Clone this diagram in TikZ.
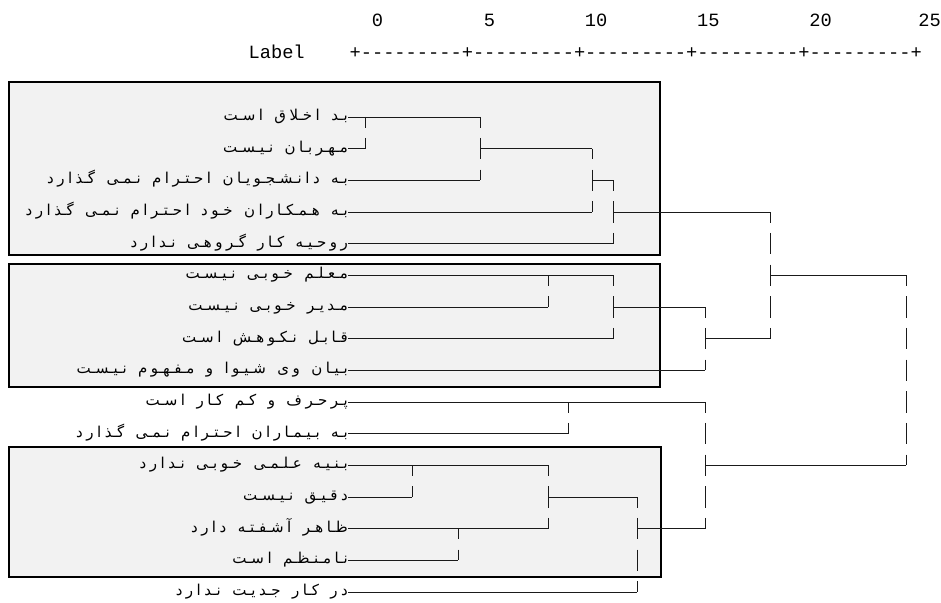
\documentclass[tikz,border=0pt]{standalone}
\usepackage{fontspec}
\TeXXeTstate=1
\newfontfamily\fafont[Script=Arabic,WordSpace=2.4]{DejaVu Sans}
\newfontfamily\monofont{Liberation Mono}
\newcommand\g{\kern3.5bp}
\definecolor{boxgray}{HTML}{F2F2F2}
\definecolor{linecol}{HTML}{1A1A1A}
\tikzset{
  lab/.style={anchor=base east, inner sep=0pt, font=\fafont\fontsize{15bp}{17bp}\selectfont},
  axistext/.style={inner sep=0pt, font=\monofont\fontsize{18.7bp}{20bp}\selectfont},
  hline/.style={draw=linecol, line width=0.9bp},
  vline/.style={draw=linecol, line width=0.9bp, dash pattern=on 21.5bp off 10.17bp, dash phase=10.75bp},
  clusterbox/.style={draw=black, fill=boxgray, line width=1.3bp},
}
\begin{document}
\begin{tikzpicture}[x=1bp,y=-1bp]
\useasboundingbox (0,0) rectangle (941,603);
% boxes
\draw[clusterbox] (9,82) rectangle (660,255);
\draw[clusterbox, line width=1.8bp] (9,264) rectangle (660,387);
\draw[clusterbox] (9,447) rectangle (661,577);
% header
\node[axistext, anchor=base] (n0) at (377.4,27) {0};
\node[axistext, anchor=base] (n5) at (489.6,27) {5};
\node[axistext, anchor=base] (n10) at (596.2,27) {10};
\node[axistext, anchor=base] (n15) at (708.4,27) {15};
\node[axistext, anchor=base] (n20) at (820.6,27) {20};
\node[axistext, anchor=base] (n25) at (929.5,27) {25};
\node[axistext, anchor=base west] (lbl) at (248.4,58.5) {Label};
\node[axistext, anchor=base west] (axis) at (349.4,58.5) {+---------+---------+---------+---------+---------+};
% row start coordinates
\foreach \i in {0,...,15} \coordinate (s\i) at (348,{117+31.67*\i});
% labels
\node[lab] (L0)  at ([yshift=-3.5bp]s0)  {\beginR بـد ا\g خـلا\g ق ا\g سـت\endR};
\node[lab] (L1)  at ([yshift=-3.5bp]s1)  {\beginR مـهـر\g بـا\g ن نـیـسـت\endR};
\node[lab] (L2)  at ([yshift=-3.5bp]s2)  {\beginR بـه د\g ا\g نـشـجـو\g یـا\g ن ا\g حـتـر\g ا\g م نـمـی گـذ\g ا\g ر\g د\endR};
\node[lab] (L3)  at ([yshift=-3.5bp]s3)  {\beginR بـه هـمـکـا\g ر\g ا\g ن خـو\g د ا\g حـتـر\g ا\g م نـمـی گـذ\g ا\g ر\g د\endR};
\node[lab] (L4)  at ([yshift=-3.5bp]s4)  {\beginR ر\g و\g حـیـه کـا\g ر گـر\g و\g هـی نـد\g ا\g ر\g د\endR};
\node[lab] (L5)  at ([yshift=-3.5bp]s5)  {\beginR مـعـلـم خـو\g بـی نـیـسـت\endR};
\node[lab] (L6)  at ([yshift=-3.5bp]s6)  {\beginR مـد\g یـر خـو\g بـی نـیـسـت\endR};
\node[lab] (L7)  at ([yshift=-3.5bp]s7)  {\beginR قـا\g بـل نـکـو\g هـش ا\g سـت\endR};
\node[lab] (L8)  at ([yshift=-3.5bp]s8)  {\beginR بـیـا\g ن و\g ی شـیـو\g ا و مـفـهـو\g م نـیـسـت\endR};
\node[lab] (L9)  at ([yshift=-3.5bp]s9)  {\beginR پـر\g حـر\g ف و کـم کـا\g ر ا\g سـت\endR};
\node[lab] (L10) at ([yshift=-3.5bp]s10) {\beginR بـه بـیـمـا\g ر\g ا\g ن ا\g حـتـر\g ا\g م نـمـی گـذ\g ا\g ر\g د\endR};
\node[lab] (L11) at ([yshift=-3.5bp]s11) {\beginR بـنـیـه عـلـمـی خـو\g بـی نـد\g ا\g ر\g د\endR};
\node[lab] (L12) at ([yshift=-3.5bp]s12) {\beginR د\g قـیـق نـیـسـت\endR};
\node[lab] (L13) at ([yshift=-3.5bp]s13) {\beginR ظـا\g هـر آ\g شـفـتـه د\g ا\g ر\g د\endR};
\node[lab] (L14) at ([yshift=-3.5bp]s14) {\beginR نـا\g مـنـظـم ا\g سـت\endR};
\node[lab] (L15) at ([yshift=-3.5bp]s15) {\beginR د\g ر کـا\g ر جـد\g یـت نـد\g ا\g ر\g د\endR};
% join points (x = fusion level)
\coordinate (J1)  at (365,0);
\coordinate (J2)  at (480,0);
\coordinate (J3)  at (592,0);
\coordinate (J4)  at (613,0);
\coordinate (J5)  at (548,0);
\coordinate (J6)  at (613,0);
\coordinate (J7)  at (705,0);
\coordinate (J8)  at (770,0);
\coordinate (J9)  at (568,0);
\coordinate (J10) at (412,0);
\coordinate (J11) at (458,0);
\coordinate (J12) at (548,0);
\coordinate (J13) at (637,0);
\coordinate (J14) at (705,0);
\coordinate (J15) at (906,0);
% horizontal lines
\draw[hline] (s0) -- (s0 -| J2);
\draw[hline] (s1) -- (s1 -| J1);
\draw[hline] (s1 -| J2) -- (s1 -| J3);
\draw[hline] (s2) -- (s2 -| J2);
\draw[hline] (s2 -| J3) -- (s2 -| J4);
\draw[hline] (s3) -- (s3 -| J3);
\draw[hline] (s3 -| J4) -- (s3 -| J8);
\draw[hline] (s4) -- (s4 -| J4);
\draw[hline] (s5) -- (s5 -| J6);
\draw[hline] (s5 -| J8) -- (s5 -| J15);
\draw[hline] (s6) -- (s6 -| J5);
\draw[hline] (s6 -| J6) -- (s6 -| J7);
\draw[hline] (s7) -- (s7 -| J6);
\draw[hline] (s7 -| J7) -- (s7 -| J8);
\draw[hline] (s8) -- (s8 -| J7);
\draw[hline] (s9) -- (s9 -| J14);
\draw[hline] (s10) -- (s10 -| J9);
\draw[hline] (s11) -- (s11 -| J12);
\draw[hline] (s11 -| J14) -- (s11 -| J15);
\draw[hline] (s12) -- (s12 -| J10);
\draw[hline] (s12 -| J12) -- (s12 -| J13);
\draw[hline] (s13) -- (s13 -| J12);
\draw[hline] (s13 -| J13) -- (s13 -| J14);
\draw[hline] (s14) -- (s14 -| J11);
\draw[hline] (s15) -- (s15 -| J13);
% vertical lines
\draw[vline] (s0 -| J1) -- (s1 -| J1);
\draw[vline] (s0 -| J2) -- (s2 -| J2);
\draw[vline] (s1 -| J3) -- (s3 -| J3);
\draw[vline] (s2 -| J4) -- (s4 -| J4);
\draw[vline] (s5 -| J5) -- (s6 -| J5);
\draw[vline] (s5 -| J6) -- (s7 -| J6);
\draw[vline] (s6 -| J7) -- (s8 -| J7);
\draw[vline] (s3 -| J8) -- (s7 -| J8);
\draw[vline] (s9 -| J9) -- (s10 -| J9);
\draw[vline] (s11 -| J10) -- (s12 -| J10);
\draw[vline] (s13 -| J11) -- (s14 -| J11);
\draw[vline] (s11 -| J12) -- (s13 -| J12);
\draw[vline] (s12 -| J13) -- (s15 -| J13);
\draw[vline] (s9 -| J14) -- (s13 -| J14);
\draw[vline] (s5 -| J15) -- (s11 -| J15);
\end{tikzpicture}
\end{document}
